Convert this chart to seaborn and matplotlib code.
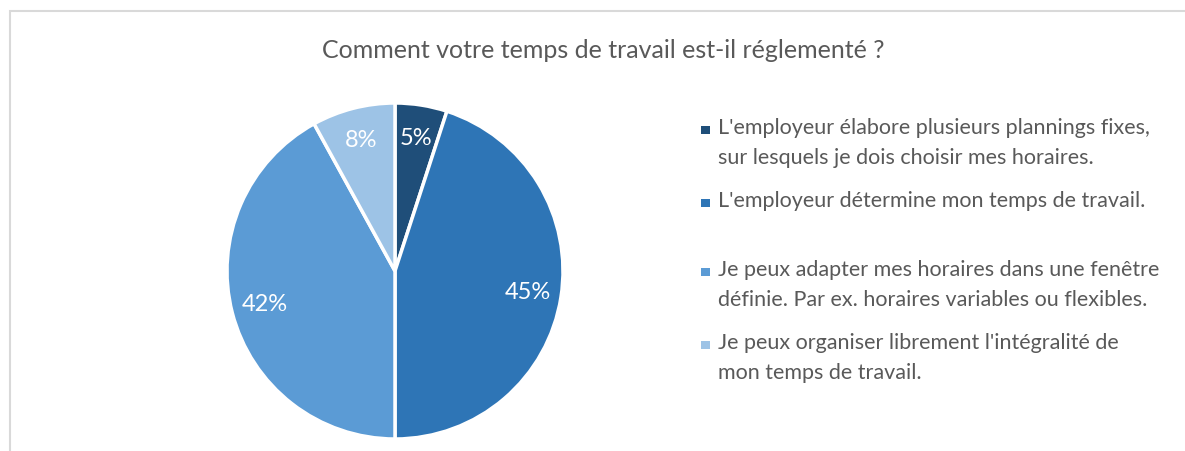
import matplotlib
matplotlib.use('Agg')
import matplotlib.pyplot as plt
import seaborn as sns
from matplotlib.patches import Rectangle

categories = ["L'employeur élabore plusieurs plannings fixes,\nsur lesquels je dois choisir mes horaires.",
              "L'employeur détermine mon temps de travail.",
              "Je peux adapter mes horaires dans une fenêtre\ndéfinie. Par ex. horaires variables ou flexibles.",
              "Je peux organiser librement l'intégralité de\nmon temps de travail."]
values = [5, 45, 42, 8]
colors = ['#1F4E79', '#2E75B6', '#5B9BD5', '#9DC3E6']
title = "Comment votre temps de travail est-il réglementé ?"

sns.set_theme(style='white')
plt.rcParams['font.family'] = ['Lato', 'DejaVu Sans']
grey = '#595959'

W, H = 1185, 451
fig = plt.figure(figsize=(W/100, H/100), dpi=100)

# chart frame
fig.patches.append(Rectangle((10/W, -0.05), 1.2, (H-11)/H + 0.05, transform=fig.transFigure,
                             fill=False, edgecolor='#d9d9d9', linewidth=1.5))

cx, cy, r = 395, 271, 168
ax = fig.add_axes([(cx-r)/W, (H-cy-r)/H, 2*r/W, 2*r/H])
wedges, texts, autotexts = ax.pie(values, colors=sns.color_palette(colors), startangle=90, counterclock=False,
                                  autopct='%d%%', pctdistance=0.8,
                                  wedgeprops=dict(edgecolor='white', linewidth=2.5),
                                  textprops=dict(color='white', fontsize=17))
ax.set_xlim(-1.0, 1.0)
ax.set_ylim(-1.0, 1.0)
ax.set_aspect('equal')
ax.axis('off')
for w in wedges:
    w.set_clip_on(False)

fig.text(603/W, 1-50/H, title, ha='center', va='center', fontsize=18, color=grey)

# legend
leg_y = [130, 203, 272, 345]
for lab, col, y in zip(categories, colors, leg_y):
    fig.patches.append(Rectangle((701/W, 1-(y+4)/H), 8.5/W, 8.5/H, transform=fig.transFigure,
                                 facecolor=col, edgecolor='none'))
    fig.text(718/W, 1-(y-12)/H, lab, ha='left', va='top', fontsize=15.5, color=grey,
             linespacing=1.62)

fig.savefig('out.png', dpi=100)
